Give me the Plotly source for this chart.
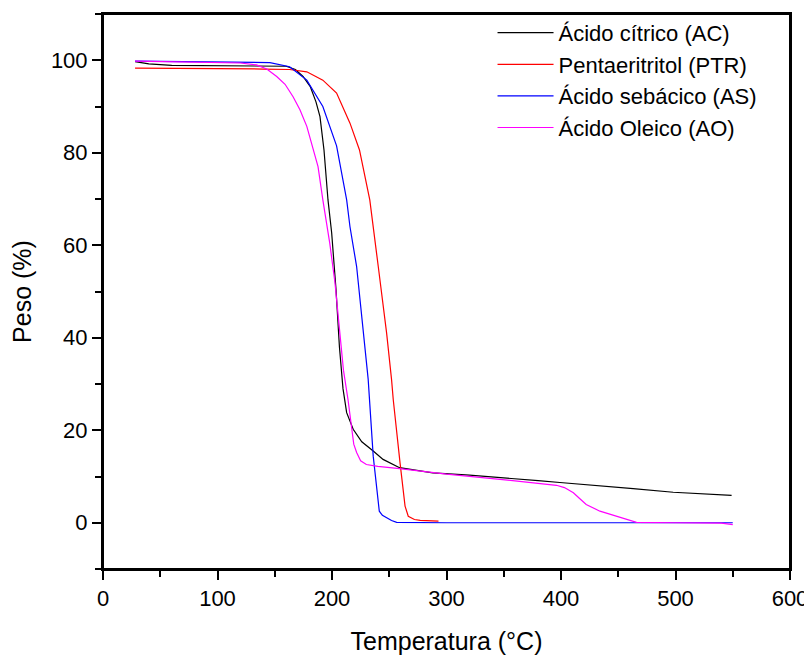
import plotly.graph_objects as go

# Ácido cítrico (AC)
ac_x = [28, 40, 60, 100, 140, 160, 168, 174.7, 181, 186, 189.5, 193, 196.5, 199.7, 203.5, 206.5, 209.6, 212.8,
        218.5, 226, 236, 244.6, 259, 288, 320, 346.7, 380, 399, 430, 463, 498, 530, 549]
ac_y = [99.7, 99.2, 98.9, 98.8, 98.8, 98.7, 98.0, 96.5, 94.3, 91.0, 87.8, 80.6, 69.8, 62.7, 50.4, 38.0, 29.0, 23.8,
        20.2, 17.5, 15.5, 13.7, 11.9, 10.8, 10.3, 9.7, 9.1, 8.7, 8.1, 7.4, 6.6, 6.2, 5.9]

# Pentaeritritol (PTR)
ptr_x = [28, 60, 100, 140, 163, 178, 192, 204, 215.7, 224, 233, 240.4, 247.7, 252, 253.5, 259.4, 263.8, 266.6,
         272, 277, 293]
ptr_y = [98.3, 98.3, 98.2, 98.1, 98.0, 97.5, 95.7, 92.9, 86.4, 80.6, 69.8, 55.4, 41.0, 31.0, 26.6, 13.0, 3.6, 1.4,
         0.7, 0.5, 0.35]

# Ácido sebácico (AS)
as_x = [28, 60, 100, 145.8, 163, 178, 192, 204, 212.8, 215.7, 221.5, 227.3, 231.6, 236, 239, 241.3, 244, 247.7,
        252, 256.5, 300, 400, 500, 550]
as_y = [99.8, 99.7, 99.6, 99.5, 98.6, 95.7, 90.0, 81.5, 69.8, 64.0, 55.4, 41.0, 31.0, 14.4, 7.9, 2.5, 1.6, 1.1,
        0.5, 0.1, 0.0, 0.0, 0.0, 0.0]

# Ácido Oleico (AO)
ao_x = [28, 60, 100, 120, 134, 143, 151.7, 159, 166, 172, 178, 183.5, 187.8, 192, 198, 202.6, 207, 210, 214, 217,
        219, 221.5, 225, 230, 240, 259, 300, 346.7, 375.8, 396, 403, 410.8, 416, 422, 434, 451.5, 466, 500, 540, 550]
ao_y = [99.8, 99.7, 99.6, 99.4, 99.0, 98.1, 96.5, 94.8, 92.1, 89.3, 85.7, 81.0, 77.0, 69.8, 60.5, 51.9, 41.0, 33.0,
        26.6, 20.2, 17.0, 15.2, 13.4, 12.6, 12.2, 11.7, 10.5, 9.4, 8.7, 8.1, 7.6, 6.5, 5.3, 3.95, 2.5, 1.1, 0.1, 0.0,
        -0.1, -0.4]

series = [
    ("Ácido cítrico (AC)", ac_x, ac_y, "#000000"),
    ("Pentaeritritol (PTR)", ptr_x, ptr_y, "#ff0000"),
    ("Ácido sebácico (AS)", as_x, as_y, "#0000ff"),
    ("Ácido Oleico (AO)", ao_x, ao_y, "#ff00ff"),
]

x_ticks = [0, 100, 200, 300, 400, 500, 600]
y_ticks = [0, 20, 40, 60, 80, 100]

FONT = "Liberation Sans, Arial, sans-serif"

fig = go.Figure()
for name, xs, ys, col in series:
    fig.add_trace(go.Scatter(x=xs, y=ys, mode="lines", name=name,
                             line=dict(color=col, width=1.2)))

axis_common = dict(
    showline=True, linewidth=2, linecolor="black", mirror=True,
    ticks="outside", ticklen=9, tickwidth=2, tickcolor="black",
    showgrid=False, zeroline=False,
    tickfont=dict(family=FONT, size=22, color="black"),
)

fig.update_xaxes(**axis_common, range=[0, 600], tickvals=x_ticks,
                 minor=dict(ticks="outside", ticklen=6, tickwidth=2, tickcolor="black", dtick=50, tick0=0),
                 title=dict(text="Temperatura (°C)", font=dict(family=FONT, size=25, color="black"), standoff=22))
fig.update_yaxes(**axis_common, range=[-10, 110], tickvals=y_ticks,
                 minor=dict(ticks="outside", ticklen=6, tickwidth=2, tickcolor="black", dtick=10, tick0=0),
                 title=dict(text="Peso (%)", font=dict(family=FONT, size=25, color="black"), standoff=12))

# page body has an 8px margin, so the figure is sized to fill the rest of the window
fig.update_layout(
    width=804, height=648,
    margin=dict(l=95, r=22, t=5, b=87),
    paper_bgcolor="white", plot_bgcolor="white",
    font=dict(family=FONT, color="black"),
    legend=dict(x=0.567, y=1.002, xanchor="left", yanchor="top",
                bgcolor="rgba(0,0,0,0)", borderwidth=0,
                font=dict(family=FONT, size=22, color="black"),
                itemwidth=56, tracegroupgap=0),
    shapes=[dict(type="rect", xref="paper", yref="paper", x0=0, y0=0, x1=1, y1=1,
                 line=dict(color="black", width=2), layer="above")],
)

fig.write_html("out.html")
